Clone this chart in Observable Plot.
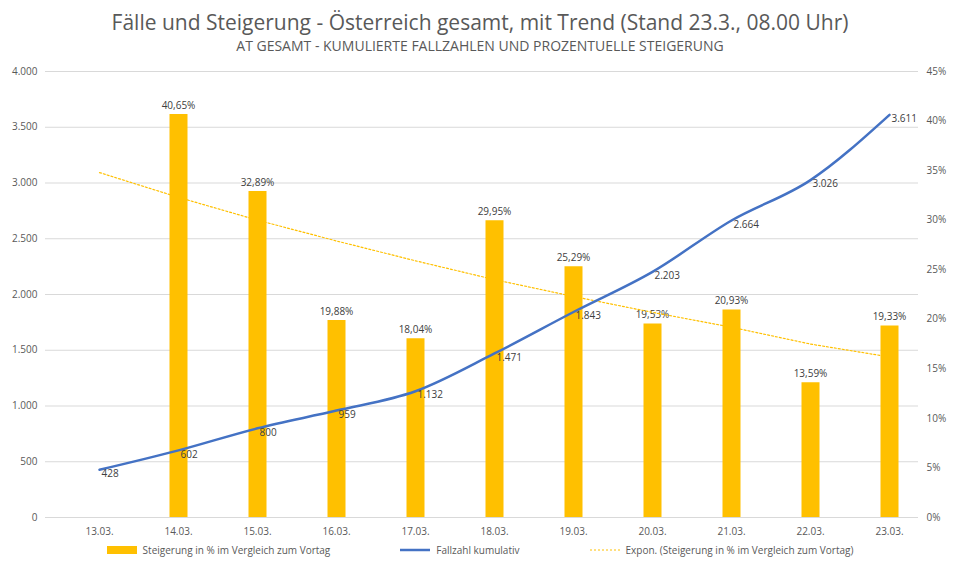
<!DOCTYPE html>
<html><head><meta charset="utf-8">
<script src="https://cdn.jsdelivr.net/npm/d3@7"></script>
<script src="https://cdn.jsdelivr.net/npm/@observablehq/plot@0.6"></script>
<style>
body{margin:0;background:#fff;font-family:"Open Sans",sans-serif;color:#595959}
#t{text-align:center;font-size:21px;margin-top:8px;height:28px}
#s{text-align:center;font-size:14px;height:24px}
#lg{display:flex;justify-content:center;gap:70px;font-size:10px;margin-top:-2px}
#lg span{display:inline-flex;align-items:center;gap:6px}
</style></head><body>
<div id="t">Fälle und Steigerung - Österreich gesamt, mit Trend (Stand 23.3., 08.00 Uhr)</div>
<div id="s">AT GESAMT - KUMULIERTE FALLZAHLEN UND PROZENTUELLE STEIGERUNG</div>
<div id="c"></div>
<div id="lg">
<span><svg width="30" height="8"><rect width="30" height="8" fill="#FFC000"/></svg>Steigerung in % im Vergleich zum Vortag</span>
<span><svg width="30" height="8"><line x1="0" x2="30" y1="4" y2="4" stroke="#4472C4" stroke-width="2.5"/></svg>Fallzahl kumulativ</span>
<span><svg width="30" height="8"><line x1="0" x2="30" y1="4" y2="4" stroke="#FFC000" stroke-dasharray="2,2"/></svg>Expon. (Steigerung in % im Vergleich zum Vortag)</span>
</div>
<script>
const dates=["13.03.","14.03.","15.03.","16.03.","17.03.","18.03.","19.03.","20.03.","21.03.","22.03.","23.03."];
const cases=[428,602,800,959,1132,1471,1843,2203,2664,3026,3611];
const pct=[null,40.65,32.89,19.88,18.04,29.95,25.29,19.53,20.93,13.59,19.33];
const trend=[34.8,32.3,30.0,27.9,25.9,24.0,22.3,20.7,19.2,17.5,16.2];
const leftTicks=[0,500,1000,1500,2000,2500,3000,3500,4000];
const rightTicks=[0,5,10,15,20,25,30,35,40,45];
const k=4000/45;
const de=n=>n.toString().replace(/\B(?=(\d{3})+(?!\d))/g,".");
const rows=dates.map((d,i)=>({d,c:cases[i],p:pct[i],t:trend[i]}));
const bars=rows.filter(r=>r.p!=null);
const plot=Plot.plot({
 width:960,height:485,marginLeft:45,marginRight:42,marginTop:11,marginBottom:28,
 style:{fontFamily:"Open Sans, sans-serif",fontSize:"10px",color:"#595959"},
 x:{type:"point",domain:dates,range:[97,891],padding:0,label:null},
 y:{domain:[0,4000],label:null},
 marks:[
  Plot.ruleY(leftTicks,{stroke:"#d9d9d9"}),
  Plot.axisY({ticks:leftTicks,tickFormat:de,tickSize:0,tickPadding:8,label:null}),
  Plot.axisY(rightTicks.map(v=>v*k),{anchor:"right",tickFormat:v=>Math.round(v/k)+"%",tickSize:0,tickPadding:8,label:null}),
  Plot.axisX({tickSize:0,tickPadding:10,label:null}),
  Plot.ruleX(bars,{x:"d",y1:0,y2:r=>r.p*k,stroke:"#FFC000",strokeWidth:18}),
  Plot.text(bars,{x:"d",y:r=>r.p*k,text:r=>r.p.toFixed(2).replace(".",",")+"%",dy:-9,fill:"#404040"}),
  Plot.line(rows,{x:"d",y:r=>r.t*k,stroke:"#FFC000",strokeWidth:1.2,strokeDasharray:"2,2"}),
  Plot.line(rows,{x:"d",y:"c",stroke:"#4472C4",strokeWidth:2.5,curve:"monotone-x"}),
  Plot.text(rows,{x:"d",y:"c",text:r=>de(r.c),dx:2,dy:4,fill:"#404040",textAnchor:"start"})
 ]
});
document.getElementById("c").append(plot);
</script></body></html>
